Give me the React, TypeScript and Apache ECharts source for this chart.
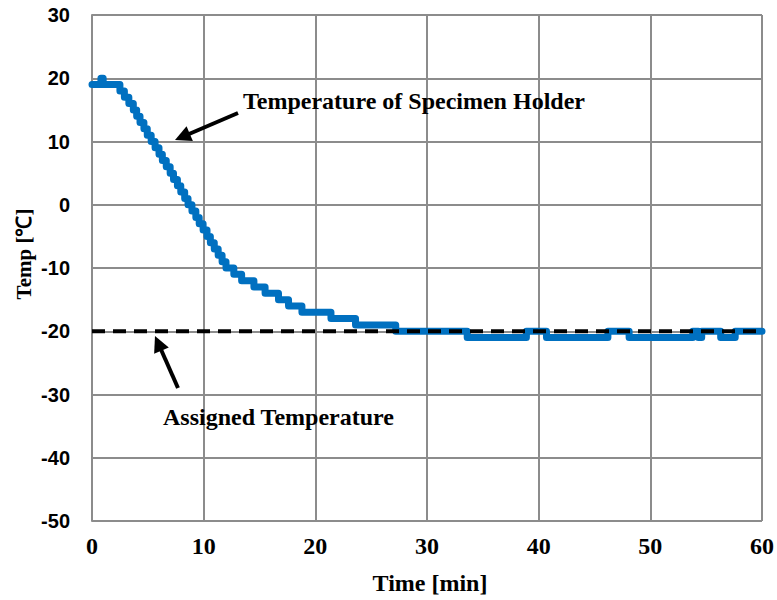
import React, { useEffect, useRef } from "react";
import * as echarts from "echarts";

// Temperature of specimen holder (step changes: time [min] -> temp [°C])
const holderTimes = [
  0, 0.8, 1.0, 2.5, 2.9, 3.3, 3.7, 4.0, 4.3, 4.65, 4.95, 5.3, 5.65, 6.0, 6.3,
  6.65, 7.0, 7.3, 7.65, 7.95, 8.3, 8.6, 8.95, 9.3, 9.6, 9.95, 10.3, 10.6,
  10.95, 11.3, 11.65, 12.0, 12.7, 13.4, 14.5, 15.5, 16.7, 17.6, 18.8, 21.4,
  23.6, 27.2, 33.6, 38.9, 40.7, 46.2, 48.1, 53.8, 54.3, 54.6, 56.3, 57.6, 60,
];
const holderTemps = [
  19, 20, 19, 18, 17, 16, 15, 14, 13, 12, 11, 10, 9, 8, 7, 6, 5, 4, 3, 2, 1,
  0, -1, -2, -3, -4, -5, -6, -7, -8, -9, -10, -11, -12, -13, -14, -15, -16,
  -17, -18, -19, -20, -21, -20, -21, -20, -21, -20, -21, -20, -21, -20, -20,
];

// Assigned temperature
const assignedTimes = [0, 60];
const assignedTemps = [-20, -20];

const xTicks = { min: 0, max: 60, interval: 10 };
const yTicks = { min: -50, max: 30, interval: 10 };

const textTitles = {
  holder: "Temperature of Specimen Holder",
  assigned: "Assigned Temperature",
  xName: "Time [min]",
  yName: "Temp [℃]",
};

function arrow(x1: number, y1: number, x2: number, y2: number) {
  const dx = x2 - x1;
  const dy = y2 - y1;
  const len = Math.sqrt(dx * dx + dy * dy);
  const ux = dx / len;
  const uy = dy / len;
  const headLen = 16;
  const headW = 8;
  const bx = x2 - ux * headLen;
  const by = y2 - uy * headLen;
  const px = -uy;
  const py = ux;
  return [
    {
      type: "line",
      shape: { x1, y1, x2: bx + ux * 2, y2: by + uy * 2 },
      style: { stroke: "#000", lineWidth: 4 },
      z: 100,
    },
    {
      type: "polygon",
      shape: {
        points: [
          [x2, y2],
          [bx + px * headW, by + py * headW],
          [bx - px * headW, by - py * headW],
        ],
      },
      style: { fill: "#000" },
      z: 100,
    },
  ];
}

export default function App() {
  const ref = useRef<HTMLDivElement>(null);
  useEffect(() => {
    if (!ref.current) return;
    const chart = echarts.init(ref.current, null, { renderer: "svg" });
    const gridColor = "#8c8c8c";
    const serif = "'Liberation Serif', 'Times New Roman', serif";
    const sans = "'Liberation Sans', Arial, sans-serif";
    chart.setOption({
      animation: false,
      backgroundColor: "#fff",
      grid: { left: 92, right: 10, top: 15, bottom: 79, containLabel: false },
      xAxis: {
        type: "value",
        ...xTicks,
        axisLine: { show: true, lineStyle: { color: gridColor, width: 2 } },
        axisTick: { show: false },
        splitLine: { show: true, lineStyle: { color: gridColor, width: 2 } },
        axisLabel: {
          color: "#000",
          fontFamily: serif,
          fontWeight: "bold",
          fontSize: 24,
          margin: 13,
        },
      },
      yAxis: {
        type: "value",
        ...yTicks,
        axisLine: { show: true, lineStyle: { color: gridColor, width: 2 } },
        axisTick: { show: false },
        splitLine: { show: true, lineStyle: { color: gridColor, width: 2 } },
        axisLabel: {
          color: "#000",
          fontFamily: sans,
          fontWeight: "bold",
          fontSize: 20,
          margin: 22,
        },
      },
      series: [
        {
          type: "line",
          step: "end",
          data: holderTimes.map((t, i) => [t, holderTemps[i]]),
          showSymbol: false,
          symbol: "none",
          lineStyle: { color: "#0070C0", width: 7, cap: "round", join: "round" },
          z: 2,
        },
        {
          type: "line",
          data: assignedTimes.map((t, i) => [t, assignedTemps[i]]),
          showSymbol: false,
          symbol: "none",
          lineStyle: { color: "#000", width: 4, type: [13, 8] },
          z: 3,
        },
      ],
      graphic: [
        {
          type: "text",
          left: 243,
          top: 89,
          style: {
            text: textTitles.holder,
            font: `bold 24px ${serif}`,
            fill: "#000",
          },
          z: 100,
        },
        {
          type: "text",
          left: 163,
          top: 405,
          style: {
            text: textTitles.assigned,
            font: `bold 24px ${serif}`,
            fill: "#000",
          },
          z: 100,
        },
        {
          type: "text",
          x: 430,
          y: 583,
          style: {
            text: textTitles.xName,
            font: `bold 24px ${serif}`,
            fill: "#000",
            align: "center",
            verticalAlign: "middle",
          },
        },
        {
          type: "text",
          x: 24,
          y: 254,
          rotation: Math.PI / 2,
          style: {
            text: textTitles.yName,
            font: `bold 21px ${serif}`,
            fill: "#000",
            align: "center",
            verticalAlign: "middle",
          },
        },
        ...arrow(238, 113, 175, 140),
        ...arrow(178, 388, 155, 336),
      ],
    });
    return () => chart.dispose();
  }, []);
  return (
    <div
      ref={ref}
      style={{ position: "fixed", left: 0, top: 0, width: 777, height: 600 }}
    />
  );
}
